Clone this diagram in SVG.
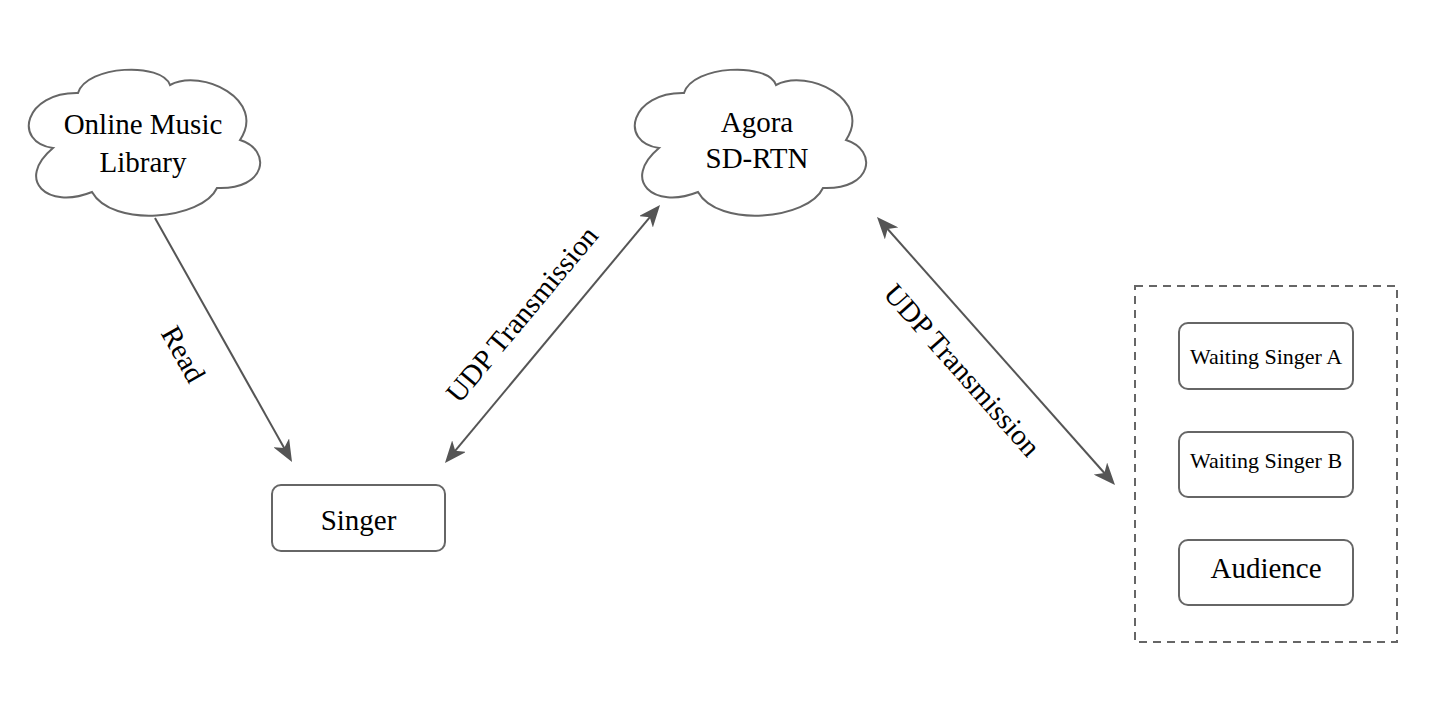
<svg xmlns="http://www.w3.org/2000/svg" width="1447" height="714" viewBox="0 0 1447 714">
<style>
.bg{fill:#ffffff}
.cloud{fill:#ffffff;stroke:#666666;stroke-width:2}
.box{fill:#ffffff;stroke:#666666;stroke-width:2}
.grp{fill:none;stroke:#666666;stroke-width:2;stroke-dasharray:8 6}
.lbl{font-family:"Liberation Serif","Times New Roman",serif;font-size:29px;fill:#000000;text-anchor:middle}
.sm{font-size:22px}
.edge{fill:none;stroke:#555555;stroke-width:2}
</style>
<defs>
<marker id="ah" viewBox="0 0 22 18" refX="14" refY="9" markerWidth="22" markerHeight="18" markerUnits="userSpaceOnUse" orient="auto-start-reverse">
<path d="M0,0 L22,9 L0,18 L6,9 Z" fill="#555555"/>
</marker>
<path id="cloudShape" d="M51,23 C60,-5 135,-8 143,15 C175,-2 240,30 213,70 C245,80 240,120 190,118 C175,150 85,158 65,122 C20,140 -12,110 26,78 C-15,72 -2,22 51,23 Z"/>
</defs>
<rect class="bg" x="0" y="0" width="1447" height="714"/>

<g id="connectors">
<line class="edge" x1="155" y1="218" x2="288.1" y2="455.0" marker-end="url(#ah)"/>
<line class="edge" x1="450.1" y1="456.9" x2="654.9" y2="211.1" marker-start="url(#ah)" marker-end="url(#ah)"/>
<line class="edge" x1="882.3" y1="223.0" x2="1109.7" y2="479.0" marker-start="url(#ah)" marker-end="url(#ah)"/>
<text class="lbl" transform="translate(183.5,354) rotate(60.7)" x="0" y="10">Read</text>
<text class="lbl" transform="translate(521.7,314) rotate(-50.2)" x="0" y="10">UDP Transmission</text>
<text class="lbl" transform="translate(962.5,370) rotate(48.4)" x="0" y="10">UDP Transmission</text>
</g>

<g id="online-music-library">
<use href="#cloudShape" class="cloud" transform="translate(27,70)"/>
<text class="lbl" x="143" y="134">Online Music</text>
<text class="lbl" x="143" y="172">Library</text>
</g>

<g id="agora-sd-rtn">
<use href="#cloudShape" class="cloud" transform="translate(633,70)"/>
<text class="lbl" x="757" y="132">Agora</text>
<text class="lbl" x="757" y="168">SD-RTN</text>
</g>

<g id="singer">
<rect class="box" x="272" y="485" width="173" height="66" rx="9"/>
<text class="lbl" x="358.5" y="530">Singer</text>
</g>

<g id="listeners-group">
<rect class="grp" x="1135" y="286" width="262" height="356"/>
</g>

<g id="waiting-singer-a">
<rect class="box" x="1179" y="323" width="174" height="66" rx="9"/>
<text class="lbl sm" x="1266" y="364">Waiting Singer A</text>
</g>

<g id="waiting-singer-b">
<rect class="box" x="1179" y="432" width="174" height="65" rx="9"/>
<text class="lbl sm" x="1266" y="468">Waiting Singer B</text>
</g>

<g id="audience">
<rect class="box" x="1179" y="540" width="174" height="65" rx="9"/>
<text class="lbl" x="1266" y="578">Audience</text>
</g>
</svg>
